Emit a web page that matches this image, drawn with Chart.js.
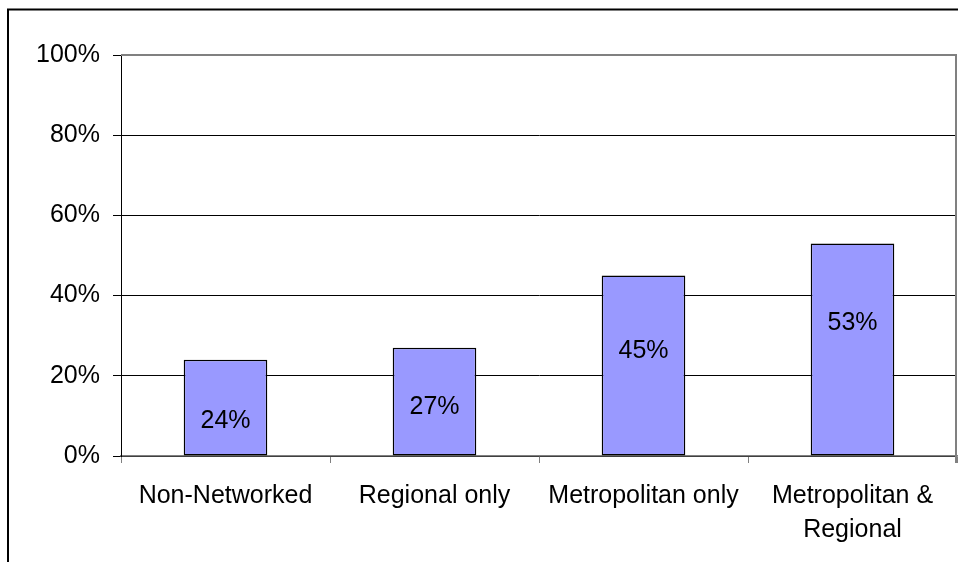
<!DOCTYPE html>
<html>
<head>
<meta charset="utf-8">
<script src="https://cdn.jsdelivr.net/npm/chart.js@4/dist/chart.umd.min.js"></script>
<style>
    html, body { margin: 0; padding: 0; background: #ffffff; }
    #wrap { position: relative; width: 958px; height: 562px; }
</style>
</head>
<body>
<div id="wrap"><canvas id="chart" width="958" height="562"></canvas></div>
<script>
const CATEGORIES = ['Non-Networked', 'Regional only', 'Metropolitan only', ['Metropolitan &', 'Regional']];
const SHARES = [24, 27, 45, 53];
const Y_TICKS = [0, 20, 40, 60, 80, 100];

const FONT = 'Liberation Sans, Arial, sans-serif';

// white background plus the outer chart frame and the grey plot-area edge
const framePlugin = {
    id: 'frame',
    beforeDraw(chart) {
        const ctx = chart.ctx;
        ctx.save();
        ctx.fillStyle = '#ffffff';
        ctx.fillRect(0, 0, chart.width, chart.height);
        ctx.strokeStyle = '#000000';
        ctx.lineWidth = 2;
        ctx.beginPath();
        ctx.moveTo(8, chart.height);
        ctx.lineTo(8, 9.5);
        ctx.lineTo(chart.width, 9.5);
        ctx.stroke();
        ctx.restore();
    },
    afterDraw(chart) {
        const { ctx, chartArea: a } = chart;
        ctx.save();
        ctx.strokeStyle = '#808080';
        ctx.lineWidth = 2;
        ctx.beginPath();
        ctx.moveTo(a.left, a.top);
        ctx.lineTo(a.right - 1, a.top);
        ctx.lineTo(a.right - 1, a.bottom + 7);
        ctx.stroke();
        ctx.restore();
    }
};

// percentage labels written inside each bar
const barLabels = {
    id: 'barLabels',
    afterDatasetsDraw(chart, args, opts) {
        const ctx = chart.ctx;
        const y = chart.scales.y;
        const meta = chart.getDatasetMeta(0);
        ctx.save();
        ctx.font = opts.font;
        ctx.fillStyle = '#000000';
        ctx.textAlign = 'center';
        ctx.textBaseline = 'middle';
        meta.data.forEach((bar, i) => {
            const v = SHARES[i];
            ctx.fillText(v + '%', bar.x, y.getPixelForValue(v * opts.at[i]));
        });
        ctx.restore();
    }
};

new Chart(document.getElementById('chart'), {
    type: 'bar',
    data: {
        labels: CATEGORIES,
        datasets: [{
            data: SHARES,
            backgroundColor: '#9999ff',
            borderColor: '#000000',
            borderWidth: 1.5,
            borderSkipped: false,
            categoryPercentage: 1,
            barPercentage: 0.4
        }]
    },
    options: {
        responsive: false,
        animation: false,
        layout: { padding: { top: 55, right: 1, left: 0, bottom: 0 } },
        plugins: {
            legend: { display: false },
            tooltip: { enabled: false },
            barLabels: {
                font: '25px ' + FONT,
                at: [0.365, 0.454, 0.583, 0.627]
            }
        },
        scales: {
            x: {
                grid: {
                    offset: true,
                    drawOnChartArea: false,
                    tickLength: 7,
                    color: '#808080'
                },
                border: { color: '#808080', width: 1.5 },
                ticks: {
                    color: '#000000',
                    padding: 16,
                    maxRotation: 0,
                    autoSkip: false,
                    font: { family: FONT, size: 25, lineHeight: 1.36 }
                },
                afterFit(scale) { scale.height = 106; }
            },
            y: {
                min: 0,
                max: 100,
                afterBuildTicks(scale) {
                    scale.ticks = Y_TICKS.map(v => ({ value: v }));
                },
                grid: {
                    color: '#000000',
                    lineWidth: 1,
                    tickLength: 8
                },
                border: { color: '#000000', width: 1 },
                ticks: {
                    color: '#000000',
                    padding: 13,
                    font: { family: FONT, size: 25 },
                    callback: v => v + '%'
                },
                afterFit(scale) { scale.width = 121; }
            }
        }
    },
    plugins: [framePlugin, barLabels]
});
</script>
</body>
</html>
